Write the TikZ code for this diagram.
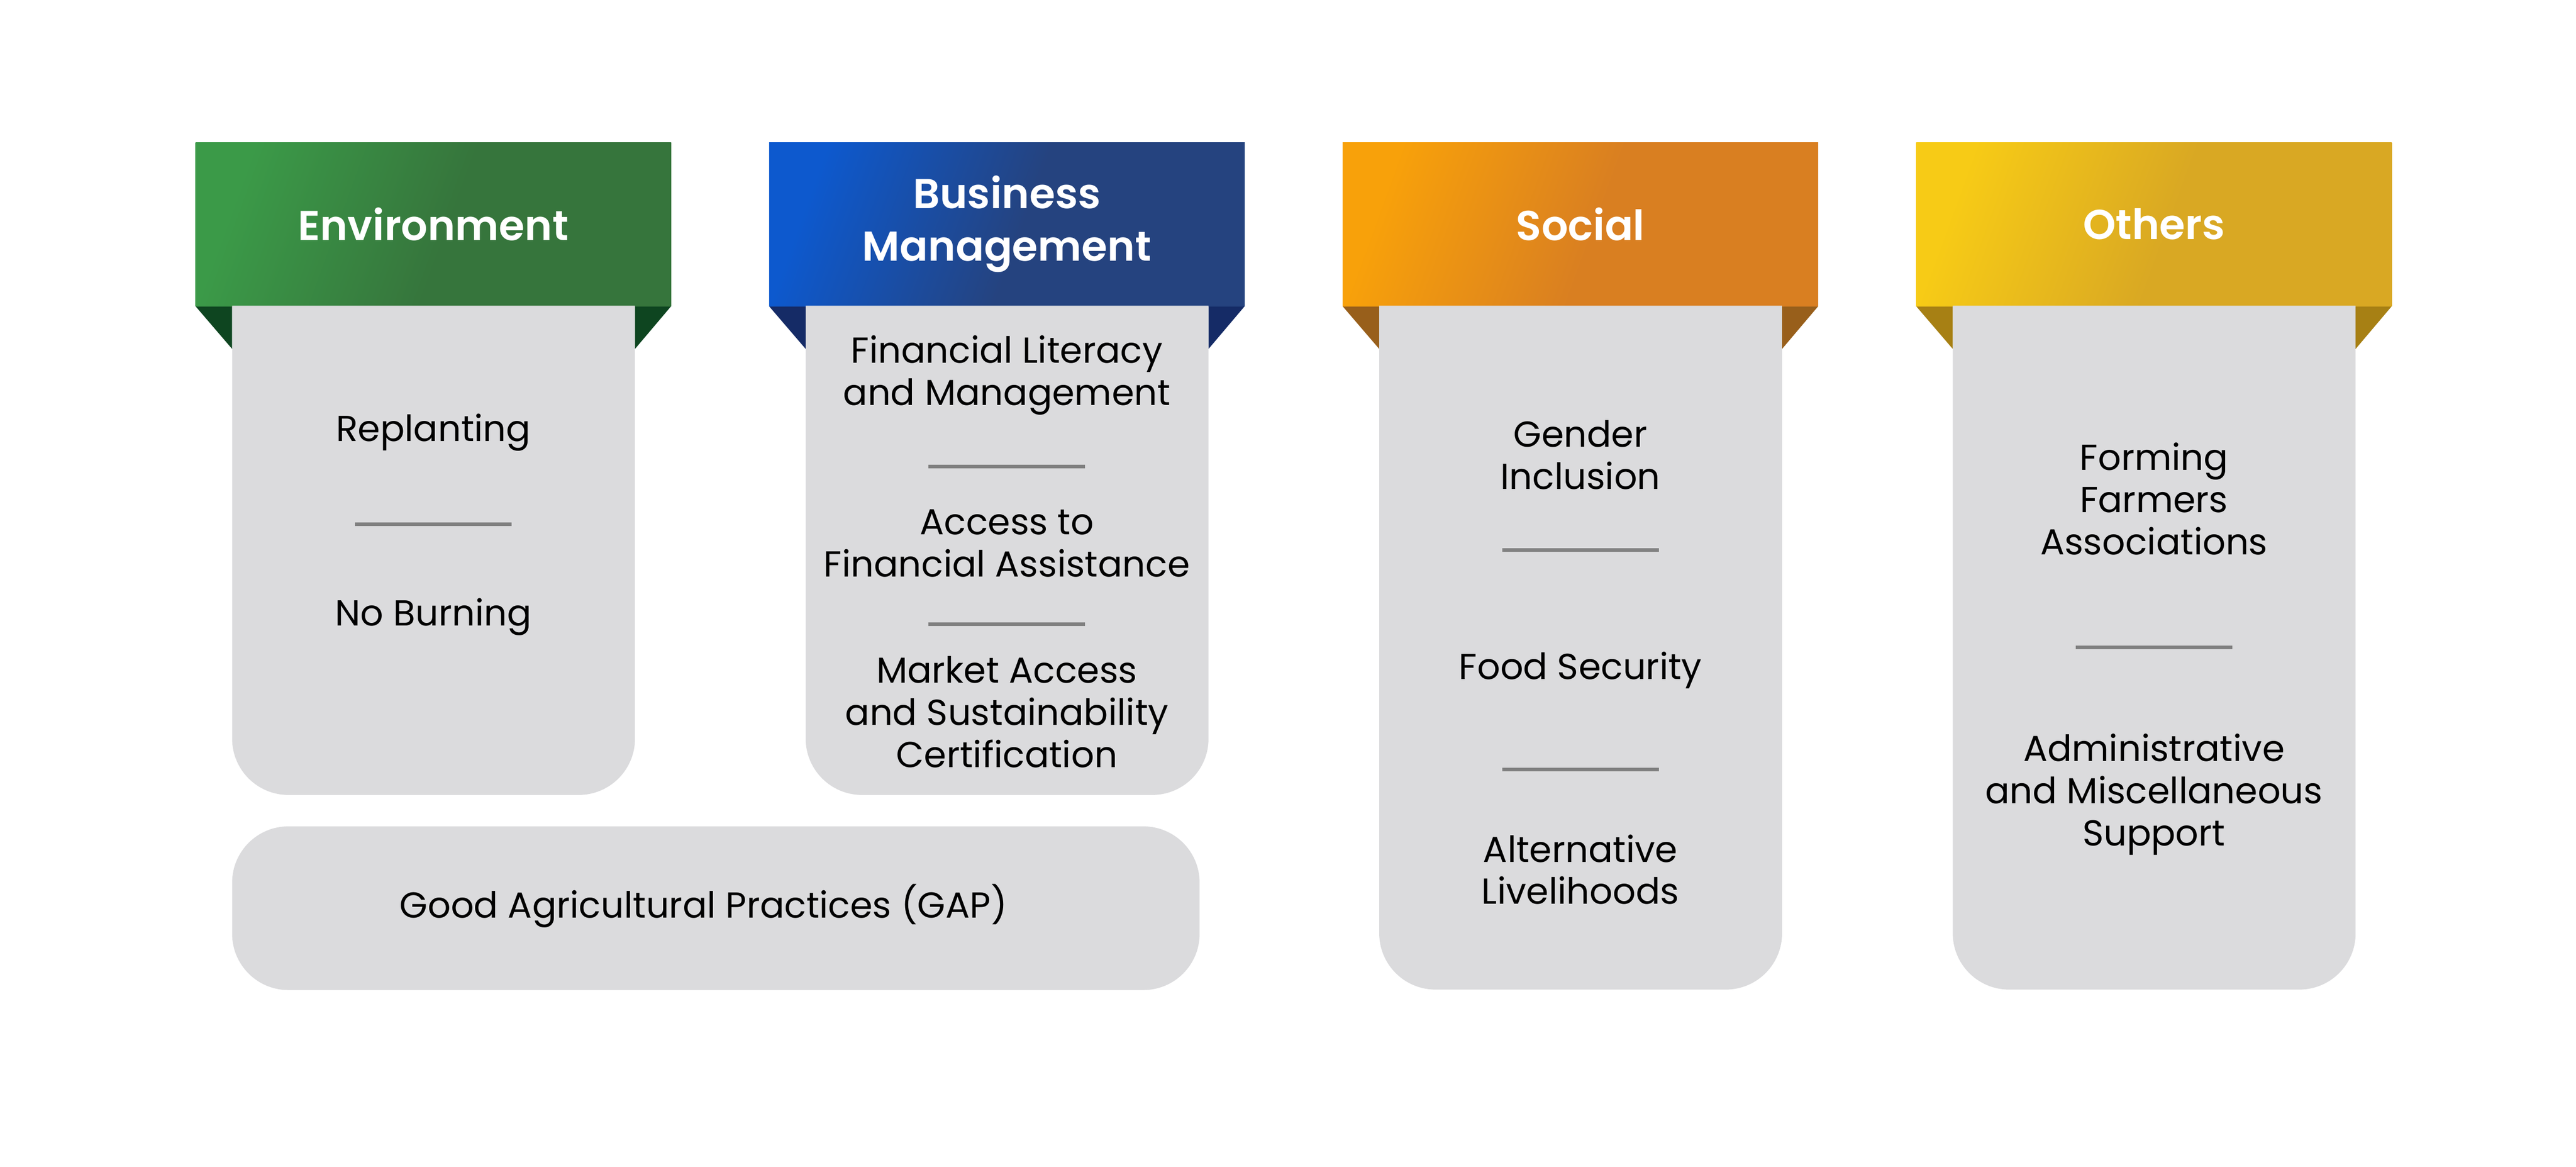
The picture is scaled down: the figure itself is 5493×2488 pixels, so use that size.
\documentclass[tikz,border=0pt]{standalone}
\usepackage{fontspec}
\setmainfont{Poppins}[BoldFont={Poppins SemiBold}]
\definecolor{boxgray}{HTML}{DBDBDD}
\definecolor{sepgray}{HTML}{808080}
\definecolor{envA}{HTML}{3B9A48}\definecolor{envB}{HTML}{36753C}\definecolor{envF}{HTML}{0E4520}
\definecolor{busA}{HTML}{0D59CE}\definecolor{busB}{HTML}{25437F}\definecolor{busF}{HTML}{152B66}
\definecolor{socA}{HTML}{F8A10A}\definecolor{socB}{HTML}{D97F21}\definecolor{socF}{HTML}{985F1B}
\definecolor{othA}{HTML}{F7CB16}\definecolor{othB}{HTML}{D9A823}\definecolor{othF}{HTML}{A78014}
\colorlet{hdrA}{envA}\colorlet{hdrB}{envB}
\pgfdeclarehorizontalshading[hdrA,hdrB]{hdrshade}{100bp}{color(0bp)=(hdrA); color(25bp)=(hdrA); color(52bp)=(hdrB); color(100bp)=(hdrB)}
\newcommand\hdrcol[7]{% #1 x0, #2 bright, #3 main, #4 fold, #5 bottom, #6 title, #7 name
  \colorlet{hdrA}{#2}\colorlet{hdrB}{#3}%
  \fill[#4] (#1,653) -- (#1+78,653) -- (#1+78,744) -- cycle;
  \fill[#4] (#1+1014,653) -- (#1+937,653) -- (#1+937,744) -- cycle;
  \shade[shading=hdrshade, shading angle=-20] (#1,304) rectangle (#1+1014,653);
  \node[hdrtext] (#7) at (#1+507,478) {#6};
  \fill[boxgray] (#1+78,652) [rounded corners=120pt] -- (#1+78,#5) -- (#1+937,#5) [sharp corners] -- (#1+937,652) -- cycle;
}
\newcommand\sepat[2]{\draw[sepline] (#1+340,#2) -- (#1+674,#2);}
\begin{document}
\begin{tikzpicture}[x=1pt,y=-1pt,
  sepline/.style={draw=sepgray, line width=8pt},
  body/.style={font=\fontsize{77}{90}\selectfont, align=center, anchor=base, inner sep=0pt, text=black},
  hdrtext/.style={font=\fontsize{89}{112}\selectfont\bfseries, align=center, text=white, inner sep=0pt}]
\useasboundingbox[fill=white] (0,0) rectangle (5493,2488);

\hdrcol{417}{envA}{envB}{envF}{1695}{Environment}{env}
\hdrcol{1640}{busA}{busB}{busF}{1695}{Business\\Management}{bus}
\hdrcol{2863}{socA}{socB}{socF}{2110}{Social}{soc}
\hdrcol{4086}{othA}{othB}{othF}{2110}{Others}{oth}

% Environment (anchor = baseline of last line)
\node[body] (replant) at (924,941) {Replanting};
\sepat{417}{1118}
\node[body] (noburn) at (924,1334) {No Burning};

% Business Management
\node[body] (finlit) at (2147,864) {Financial Literacy\\and Management};
\sepat{1640}{995}
\node[body] (finass) at (2147,1230) {Access to\\Financial Assistance};
\sepat{1640}{1331}
\node[body] (market) at (2147,1636) {Market Access\\and Sustainability\\Certification};

% Social
\node[body] (gender) at (3370,1043) {Gender\\Inclusion};
\sepat{2863}{1173}
\node[body] (food) at (3370,1448) {Food Security};
\sepat{2863}{1641}
\node[body] (altliv) at (3370,1928) {Alternative\\Livelihoods};

% Others
\node[body] (farmers) at (4593,1183) {Forming\\Farmers\\Associations};
\sepat{4086}{1380}
\node[body] (admin) at (4593,1803) {Administrative\\and Miscellaneous\\Support};

% GAP
\fill[boxgray, rounded corners=120pt] (495,1762) rectangle (2558,2111);
\node[body] (gap) at (1500,1957) {Good Agricultural Practices (GAP)};
\end{tikzpicture}
\end{document}
